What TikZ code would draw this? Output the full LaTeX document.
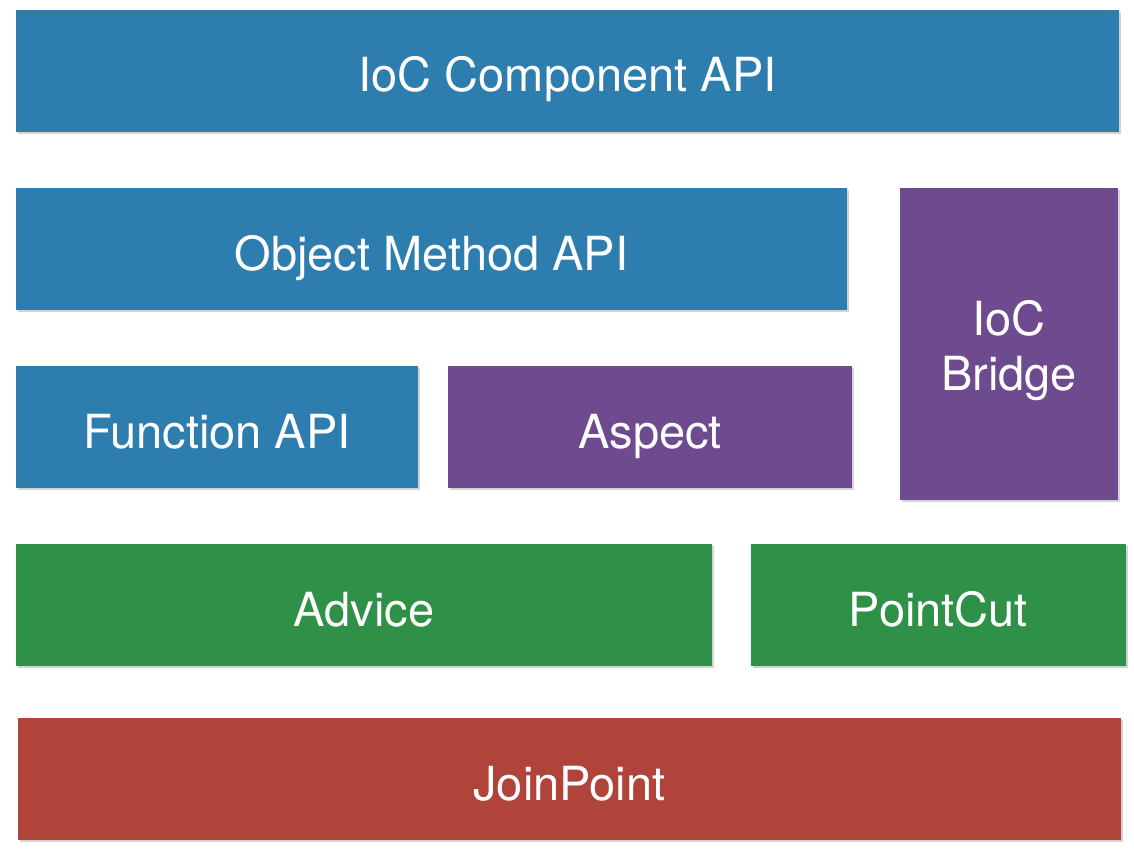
\documentclass[tikz,border=0pt]{standalone}
\usepackage{fontspec}
\setmainfont{TeX Gyre Heros}
\usetikzlibrary{shadows}

\definecolor{apiblue}{RGB}{46,125,175}
\definecolor{aoppurple}{RGB}{110,74,142}
\definecolor{basegreen}{RGB}{46,145,71}
\definecolor{corered}{RGB}{176,67,58}

\tikzset{
    layer/.style={fill=#1, text=white, inner sep=0pt, minimum height=122pt,
        text height=42pt, text depth=0pt,
        font=\fontsize{47}{55}\selectfont, align=center,
        drop shadow={shadow xshift=1.5pt, shadow yshift=-2pt, opacity=0.35}}
}

\begin{document}
\begin{tikzpicture}[x=1pt, y=-1pt]
    \useasboundingbox (0,0) rectangle (1134,856);
    \node (ioc) at (567.5,71)[layer=apiblue, minimum width=1103pt]{IoC Component API};
    \node (obj) at (431.5,249)[layer=apiblue, minimum width=831pt]{Object Method API};
    \node (bridge) at (1009,344)[layer=aoppurple, minimum width=218pt, minimum height=312pt, text height=92pt]{IoC\\Bridge};
    \node (func) at (217,427)[layer=apiblue, minimum width=402pt]{Function API};
    \node (aspect) at (650,427)[layer=aoppurple, minimum width=404pt]{Aspect};
    \node (advice) at (364,605)[layer=basegreen, minimum width=696pt]{Advice};
    \node (cut) at (938.5,605)[layer=basegreen, minimum width=375pt]{PointCut};
    \node (join) at (569.5,779)[layer=corered, minimum width=1103pt]{JoinPoint};
\end{tikzpicture}
\end{document}
